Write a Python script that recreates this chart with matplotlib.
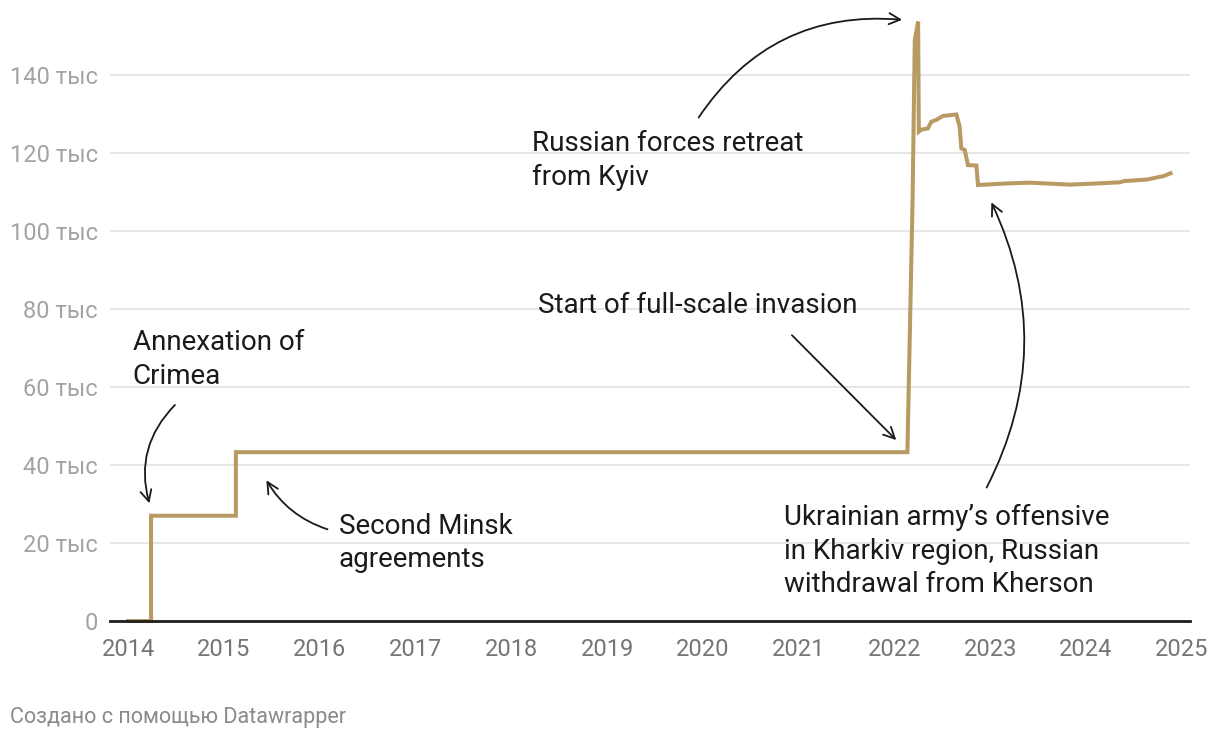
import matplotlib
matplotlib.use("Agg")
from matplotlib import pyplot as plt

# troops (thousands) over time
years = [2014.00, 2014.24, 2014.24, 2015.126, 2015.126, 2022.136, 2022.19, 2022.213,
         2022.248, 2022.255, 2022.28, 2022.349, 2022.385, 2022.437, 2022.506, 2022.577,
         2022.647, 2022.681, 2022.699, 2022.734, 2022.768, 2022.856, 2022.873, 2023.171,
         2023.415, 2023.834, 2024.114, 2024.358, 2024.393, 2024.638, 2024.812, 2024.883]
troops = [0, 0, 27.0, 27.0, 43.3, 43.3, 108.0, 149.0,
          153.7, 125.5, 126.0, 126.3, 128.0, 128.5, 129.5, 129.7,
          129.9, 126.8, 121.2, 120.8, 116.9, 116.8, 111.8, 112.2,
          112.4, 111.9, 112.2, 112.5, 112.8, 113.2, 114.1, 114.8]

xticks = list(range(2014, 2026))
yticks = [0, 20, 40, 60, 80, 100, 120, 140]
ylabels = ["0"] + [f"{v} тыс" for v in yticks[1:]]

plt.rcParams['font.family'] = ['Roboto', 'DejaVu Sans']

fig = plt.figure(figsize=(12.2, 7.38), dpi=100)
ax = fig.add_axes([0.0902, 0.1585, 0.8852, 0.8191])

ax.plot(years, troops, color='#b99a62', lw=2.9, clip_on=False, zorder=3,
        solid_joinstyle='miter')

ax.set_xlim(2013.812, 2025.086)
ax.set_ylim(0, 155)
ax.set_xticks(xticks)
ax.set_xticklabels([str(x) for x in xticks])
ax.set_yticks(yticks)
ax.set_yticklabels(ylabels)
ax.tick_params(axis='both', length=0, labelsize=17)
ax.tick_params(axis='x', pad=12, labelcolor='#757575')
ax.tick_params(axis='y', pad=9, labelcolor='#a3a3a3')
ax.grid(axis='y', color='#e2e2e2', lw=1.2)
ax.set_axisbelow(True)
for s in ['top', 'right', 'left']:
    ax.spines[s].set_visible(False)
ax.spines['bottom'].set_color('#1e1e1e')
ax.spines['bottom'].set_linewidth(2)
ax.spines['bottom'].set_zorder(4)

txt = dict(fontsize=20, color='#1a1a1a', ha='left', va='center', linespacing=1.32)
arr = dict(arrowstyle='->', color='#1a1a1a', lw=1.3, mutation_scale=20)

ax.text(2014.05, 67, "Annexation of\nCrimea", **txt)
ax.annotate("", xy=(2014.23, 29.5), xytext=(2014.51, 55.9),
            arrowprops=dict(connectionstyle="arc3,rad=0.3", **arr))

ax.text(2016.20, 20, "Second Minsk\nagreements", **txt)
ax.annotate("", xy=(2015.43, 36.7), xytext=(2016.11, 23.3),
            arrowprops=dict(connectionstyle="arc3,rad=-0.2", **arr))

ax.text(2018.28, 80.8, "Start of full-scale invasion", **txt)
ax.annotate("", xy=(2022.04, 45.9), xytext=(2020.91, 73.8),
            arrowprops=dict(connectionstyle="arc3,rad=0", **arr))

ax.text(2018.22, 118, "Russian forces retreat\nfrom Kyiv", **txt)
ax.annotate("", xy=(2022.11, 154.1), xytext=(2019.94, 128.5),
            arrowprops=dict(connectionstyle="arc3,rad=-0.3", **arr))

ax.text(2020.85, 17.9, "Ukrainian army’s offensive\nin Kharkiv region, Russian\nwithdrawal from Kherson", **txt)
ax.annotate("", xy=(2023.0, 108), xytext=(2022.95, 33.6),
            arrowprops=dict(connectionstyle="arc3,rad=0.25", **arr))

fig.text(10 / 1220, 1 - 717 / 738, "Создано с помощью Datawrapper", fontsize=15.5,
         color='#8a8a8a', ha='left', va='center')

fig.savefig("out.png", dpi=100)
